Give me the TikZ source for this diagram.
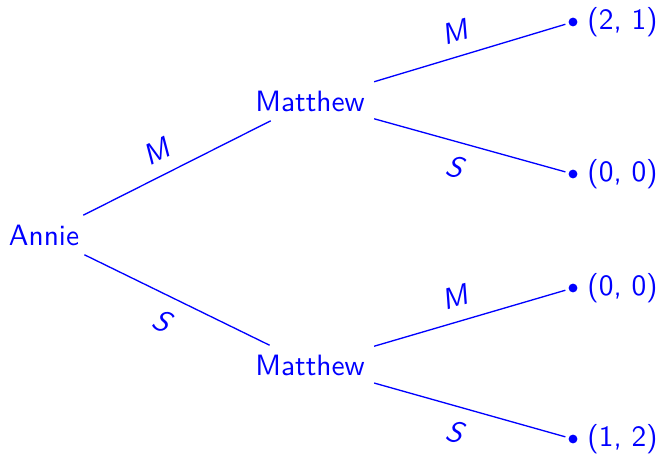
\documentclass[tikz,border=0pt]{standalone}
\usepackage{tikz}
\tikzset{
  player/.style={text=blue, font=\sffamily, inner sep=3pt},
  leaf/.style={circle, fill=blue, inner sep=0pt, minimum size=3pt, outer sep=1.2pt},
  edge/.style={draw=blue, line width=0.45pt},
  act/.style={text=blue, font=\sffamily\itshape, sloped, pos=0.46, inner sep=4.5pt},
  payoff/.style={text=blue, font=\sffamily, inner sep=2pt}
}
\begin{document}
\begin{tikzpicture}[x=0.34pt, y=-0.34pt]
\useasboundingbox (0,0) rectangle (659,454);
\node[player] (a) at (44,235) {Annie};
\node[player] (m1) at (310,101) {Matthew};
\node[player] (m2) at (310,365) {Matthew};
\node[leaf, label={[payoff]right:(2, 1)}] (l1) at (573,22) {};
\node[leaf, label={[payoff]right:(0, 0)}] (l2) at (573,174) {};
\node[leaf, label={[payoff]right:(0, 0)}] (l3) at (573,288) {};
\node[leaf, label={[payoff]right:(1, 2)}] (l4) at (573,439) {};
\draw[edge] (a) -- node[act, above, pos=0.45] {M} (m1);
\draw[edge] (a) -- node[act, below, pos=0.48] {S} (m2);
\draw[edge] (m1) -- node[act, above] {M} (l1);
\draw[edge] (m1) -- node[act, below] {S} (l2);
\draw[edge] (m2) -- node[act, above] {M} (l3);
\draw[edge] (m2) -- node[act, below] {S} (l4);
\end{tikzpicture}
\end{document}
